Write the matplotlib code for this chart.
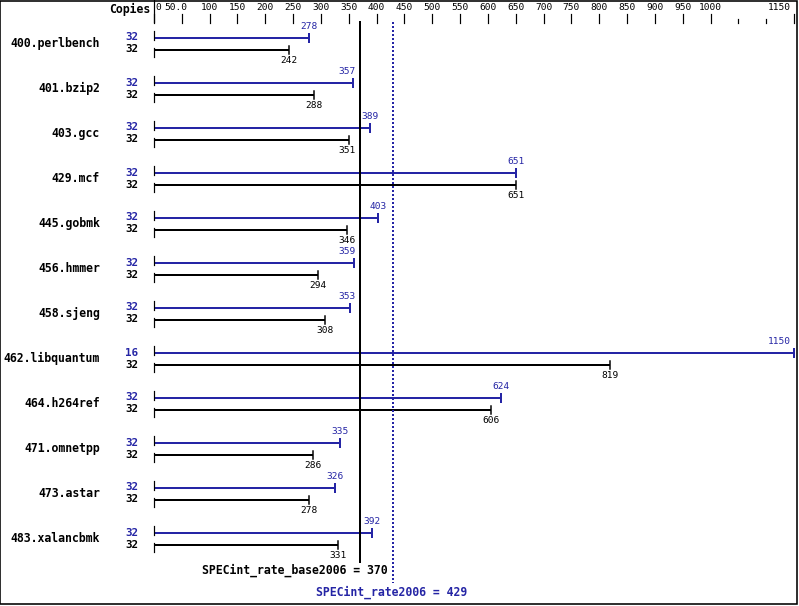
import matplotlib
matplotlib.use("Agg")
import matplotlib.pyplot as plt
from matplotlib.patches import Rectangle

benchmarks = ["400.perlbench", "401.bzip2", "403.gcc", "429.mcf", "445.gobmk",
              "456.hmmer", "458.sjeng", "462.libquantum", "464.h264ref",
              "471.omnetpp", "473.astar", "483.xalancbmk"]
peak_values = [278, 357, 389, 651, 403, 359, 353, 1150, 624, 335, 326, 392]
base_values = [242, 288, 351, 651, 346, 294, 308, 819, 606, 286, 278, 331]
peak_copies = [32, 32, 32, 32, 32, 32, 32, 16, 32, 32, 32, 32]
base_copies = [32, 32, 32, 32, 32, 32, 32, 32, 32, 32, 32, 32]
tick_values = [0, 50, 100, 150, 200, 250, 300, 350, 400, 450, 500, 550, 600,
               650, 700, 750, 800, 850, 900, 950, 1000, 1150]
tick_labels = ["0", "50.0", "100", "150", "200", "250", "300", "350", "400",
               "450", "500", "550", "600", "650", "700", "750", "800", "850",
               "900", "950", "1000", "1150"]
minor_ticks = [1050, 1100]
base_score = 370
peak_score = 429

BLUE = "#2525a5"
BLACK = "#000000"
W, H = 799, 606
X0, X1 = 154, 794
VMAX = 1150
scale = (X1 - X0) / VMAX
PX = 0.72  # 1 pixel in points at dpi 100

fig = plt.figure(figsize=(W / 100, H / 100), dpi=100)
ax = fig.add_axes([0, 0, 1, 1])
ax.set_xlim(-X0 / scale, (W - X0) / scale)
ax.set_ylim(H, 0)
ax.axis("off")

mono = "DejaVu Sans Mono"
base_px = X0 + base_score * scale


def px2v(p):
    return (p - X0) / scale


def place_label(v, y, text, color):
    cx = X0 + v * scale
    half = 8.5
    if cx + 12 > W:
        ax.text(v - 3 / scale, y, text, ha="right", va="center",
                fontsize=6.8, family=mono, color=color)
    elif cx + half > base_px - 3 and cx - half < base_px + 2:
        ax.text(px2v(base_px - 4), y, text, ha="right", va="center",
                fontsize=6.8, family=mono, color=color)
    else:
        ax.text(v, y, text, ha="center", va="center",
                fontsize=6.8, family=mono, color=color)


# frame
ax.add_patch(Rectangle((-X0 / scale, 0.7), (W - 2.2) / scale, H - 2.4, fill=False,
                       edgecolor="black", linewidth=1.6 * PX, zorder=5))

# top axis
ax.text(-4 / scale, 9, "Copies", ha="right", va="center", fontsize=8.3,
        family=mono, fontweight="bold")
ax.plot([0, 0], [0, 22], color="black", lw=1.2 * PX)
for v, lab in zip(tick_values, tick_labels):
    ax.plot([v, v], [14, 23], color="black", lw=1.2 * PX)
    if v == 0:
        ax.text(v + 1.5 / scale, 8, lab, ha="left", va="center", fontsize=6.8, family=mono)
    elif v == VMAX:
        ax.text(v - 3 / scale, 8, lab, ha="right", va="center", fontsize=6.8, family=mono)
    elif lab == "50.0":
        ax.text(v - 6 / scale, 8, lab, ha="center", va="center", fontsize=6.8, family=mono)
    else:
        ax.text(v, 8, lab, ha="center", va="center", fontsize=6.8, family=mono)
for v in minor_ticks:
    ax.plot([v, v], [19, 23], color="black", lw=1.2 * PX)

# rows
for i, name in enumerate(benchmarks):
    c = 43.5 + 45 * i
    yb = c - 6
    yk = c + 6
    ax.text(-54 / scale, c, name, ha="right", va="center", fontsize=8.3,
            family=mono, fontweight="bold")
    ax.text(-22.5 / scale, yb, str(peak_copies[i]), ha="center", va="center",
            fontsize=7.8, family=mono, fontweight="bold", color=BLUE)
    ax.text(-22.5 / scale, yk, str(base_copies[i]), ha="center", va="center",
            fontsize=7.8, family=mono, fontweight="bold", color=BLACK)
    # peak bar
    pv = peak_values[i]
    ax.plot([0, pv], [yb, yb], color=BLUE, lw=2 * PX, solid_capstyle="butt")
    ax.plot([0, 0], [yb - 7, yb + 2], color=BLACK, lw=1.2 * PX)
    ax.plot([pv, pv], [yb - 4, yb + 4], color=BLUE, lw=2 * PX)
    place_label(pv, yb - 11, str(pv), BLUE)
    # base bar
    bv = base_values[i]
    ax.plot([0, bv], [yk, yk], color=BLACK, lw=2 * PX, solid_capstyle="butt")
    ax.plot([0, 0], [yk - 2, yk + 7], color=BLACK, lw=1.2 * PX)
    ax.plot([bv, bv], [yk - 4, yk + 4], color=BLACK, lw=1.5 * PX)
    place_label(bv, yk + 11, str(bv), BLACK)

# summary lines
ax.plot([base_score, base_score], [22, 562], color=BLACK, lw=2 * PX)
ax.plot([peak_score, peak_score], [22, 583], color=BLUE, lw=2 * PX,
        linestyle=(0, (1, 1)))
ax.text(base_score + 28 / scale, 570, "SPECint_rate_base2006 = %d" % base_score,
        ha="right", va="center", fontsize=8.3, family=mono, fontweight="bold")
ax.text(peak_score - 1 / scale, 592, "SPECint_rate2006 = %d" % peak_score,
        ha="center", va="center", fontsize=8.3, family=mono, fontweight="bold",
        color=BLUE)

fig.savefig("out.png", dpi=100)
